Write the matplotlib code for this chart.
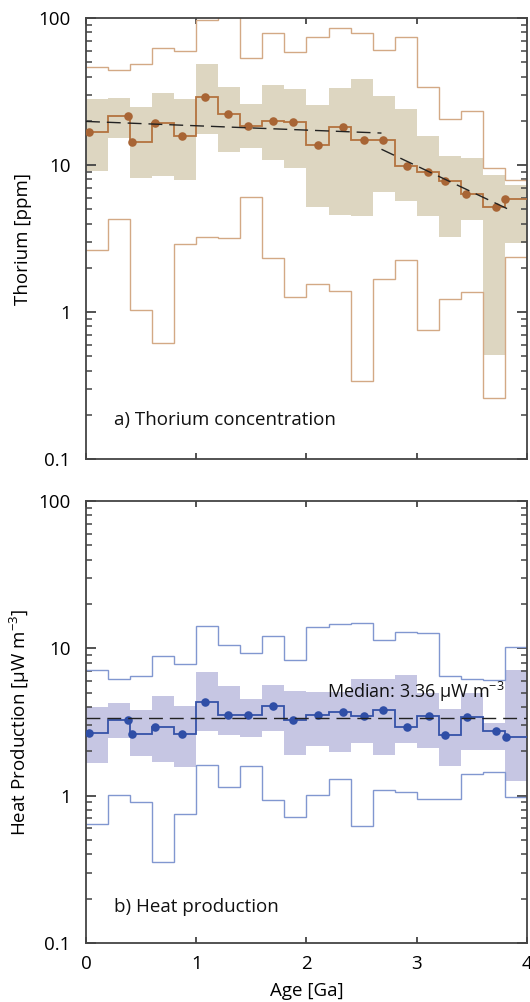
import numpy as np
import matplotlib
matplotlib.use('Agg')
import matplotlib.pyplot as plt
from matplotlib.ticker import LogLocator, NullFormatter, FixedLocator, FixedFormatter

plt.rcParams['font.family'] = ['Open Sans', 'DejaVu Sans']
plt.rcParams['mathtext.fontset'] = 'custom'
plt.rcParams['mathtext.rm'] = 'Open Sans'
plt.rcParams['mathtext.default'] = 'regular'

# bin edges (Ga)
age_edges = [0.0, 0.2, 0.4, 0.6, 0.8, 1.0, 1.2, 1.4, 1.6, 1.8, 2.0,
             2.2, 2.4, 2.6, 2.8, 3.0, 3.2, 3.4, 3.6, 3.8, 4.0]

# thorium [ppm]
th_age = [0.03, 0.38, 0.42, 0.63, 0.87, 1.08, 1.29, 1.47, 1.70, 1.88,
          2.10, 2.33, 2.52, 2.69, 2.91, 3.10, 3.26, 3.45, 3.72, 3.80]
th_median = [16.7, 21.4, 14.3, 19.2, 15.7, 29.0, 22.1, 18.4, 20.0, 19.5,
             13.6, 18.2, 14.7, 14.7, 9.8, 8.9, 7.8, 6.35, 5.18, 5.85]
th_q_hi = [28.0, 28.6, 24.7, 30.9, 28.1, 48.9, 34.0, 26.1, 35.2, 32.9,
           25.6, 33.6, 38.6, 29.4, 24.0, 15.7, 11.6, 11.1, 8.6, 7.3]
th_q_lo = [9.1, 15.3, 8.2, 8.4, 7.9, 16.2, 12.2, 13.1, 10.9, 9.6,
           5.15, 4.6, 4.5, 6.6, 5.7, 4.5, 3.25, 4.2, 0.51, 2.97]
th_p_hi = [46.7, 44.3, 48.4, 62.1, 59.8, 96.8, 130.0, 53.1, 78.7, 59.0,
           73.8, 85.0, 78.7, 61.0, 73.8, 33.8, 20.6, 23.4, 9.5, 7.9]
th_p_lo = [2.63, 4.28, 1.03, 0.62, 2.92, 3.25, 3.2, 6.03, 2.34, 1.27,
           1.56, 1.39, 0.34, 1.69, 2.27, 0.76, 1.22, 1.36, 0.26, 2.36]
fit1_age = [0.0, 2.68]
fit1_th = [19.8, 16.5]
fit2_age = [2.68, 3.82]
fit2_th = [12.8, 5.05]

# heat production [uW m-3]
hp_age = [0.03, 0.38, 0.42, 0.63, 0.87, 1.08, 1.29, 1.47, 1.70, 1.88,
          2.10, 2.33, 2.52, 2.69, 2.91, 3.11, 3.26, 3.46, 3.72, 3.81]
hp_median = [2.66, 3.28, 2.62, 2.91, 2.63, 4.3, 3.5, 3.5, 4.04, 3.28,
             3.5, 3.7, 3.45, 3.83, 2.91, 3.47, 2.59, 3.42, 2.76, 2.5]
hp_q_hi = [4.02, 4.26, 3.83, 4.75, 4.08, 6.9, 5.57, 4.5, 5.66, 5.1,
           5.05, 5.07, 6.19, 6.19, 6.59, 5.0, 3.9, 5.0, 3.1, 7.16]
hp_q_lo = [1.67, 2.46, 1.87, 1.69, 1.57, 2.76, 2.59, 2.5, 2.76, 1.88,
           2.16, 1.97, 2.28, 1.88, 2.29, 2.11, 1.6, 2.05, 2.03, 1.25]
hp_p_hi = [7.13, 6.22, 6.52, 8.87, 7.78, 14.2, 10.5, 9.23, 12.2, 8.34,
           14.0, 14.7, 14.8, 11.4, 12.9, 12.7, 6.45, 6.22, 6.06, 10.2]
hp_p_lo = [0.64, 1.01, 0.90, 0.355, 0.75, 1.61, 1.15, 1.59, 0.93, 0.72,
           1.01, 1.3, 0.62, 1.09, 1.06, 0.95, 0.95, 1.4, 1.45, 0.98]
hp_overall = 3.36

ytick_vals = [0.1, 1, 10, 100]
ytick_labels = ['0.1', '1', '10', '100']
xtick_vals = [0, 1, 2, 3, 4]

spine_col = '#444444'


def style_axes(ax, show_x):
    ax.set_yscale('log')
    ax.set_xlim(0, 4)
    ax.set_ylim(0.1, 100)
    ax.yaxis.set_major_locator(FixedLocator(ytick_vals))
    ax.yaxis.set_major_formatter(FixedFormatter(ytick_labels))
    ax.yaxis.set_minor_locator(LogLocator(base=10, subs=np.arange(2, 10)))
    ax.yaxis.set_minor_formatter(NullFormatter())
    ax.set_xticks(xtick_vals)
    if not show_x:
        ax.set_xticklabels([])
    for s in ax.spines.values():
        s.set_color(spine_col)
        s.set_linewidth(1.3)
    ax.tick_params(axis='y', which='major', direction='in', length=7.5,
                   width=1.3, color=spine_col, left=True, right=True,
                   labelsize=13.5, pad=11)
    ax.tick_params(axis='y', which='minor', direction='in', length=4,
                   width=1.1, color=spine_col, left=True, right=True)
    ax.tick_params(axis='x', which='major', direction='in', length=4,
                   width=1.3, color=spine_col, top=True, bottom=True,
                   labelsize=13.5, pad=9)


fig = plt.figure(figsize=(5.30, 10.02), dpi=100)
ax1 = fig.add_axes([0.1623, 0.5419, 0.8320, 0.4401])
ax2 = fig.add_axes([0.1623, 0.0589, 0.8320, 0.4411])

# a) thorium
ax1.stairs(th_q_hi, age_edges, baseline=th_q_lo, fill=True,
           color='#ddd6c1', lw=0, zorder=1)
ax1.stairs(th_p_hi, age_edges, baseline=None, color='#d3a985', lw=1.0, zorder=2)
ax1.stairs(th_p_lo, age_edges, baseline=None, color='#d3a985', lw=1.0, zorder=2)
ax1.stairs(th_median, age_edges, baseline=None, color='#b3733f', lw=1.3, zorder=3)
ax1.scatter(th_age, th_median, s=38, color='#a86535', zorder=4, lw=0)
ax1.plot(fit1_age, fit1_th, color='#222222', lw=1.0, ls=(0, (10, 5)), zorder=5)
ax1.plot(fit2_age, fit2_th, color='#222222', lw=1.0, ls=(0, (10, 5)), zorder=5)
ax1.text(0.063, 0.088, 'a) Thorium concentration', transform=ax1.transAxes,
         fontsize=13.5, va='center', ha='left', color='#111111')
ax1.set_ylabel('Thorium [ppm]', fontsize=13.5, labelpad=5)
style_axes(ax1, False)

# b) heat production
ax2.stairs(hp_q_hi, age_edges, baseline=hp_q_lo, fill=True,
           color='#c6c6e3', lw=0, zorder=1)
ax2.stairs(hp_p_hi, age_edges, baseline=None, color='#8197d0', lw=1.0, zorder=2)
ax2.stairs(hp_p_lo, age_edges, baseline=None, color='#8197d0', lw=1.0, zorder=2)
ax2.stairs(hp_median, age_edges, baseline=None, color='#3552a8', lw=1.3, zorder=3)
ax2.scatter(hp_age, hp_median, s=38, color='#2f4ea6', zorder=4, lw=0)
ax2.axhline(hp_overall, color='#222222', lw=1.0, ls=(0, (10, 5)), zorder=5)
ax2.text(2.19, 4.6, 'Median: %.2f µW m$^{-3}$' % hp_overall,
         fontsize=13, ha='left', va='baseline', color='#111111', zorder=6)
ax2.text(0.063, 0.081, 'b) Heat production', transform=ax2.transAxes,
         fontsize=13.5, va='center', ha='left', color='#111111')
ax2.set_ylabel('Heat Production [µW m$^{-3}$]', fontsize=13.5, labelpad=5)
ax2.set_xlabel('Age [Ga]', fontsize=13.5, labelpad=6)
style_axes(ax2, True)

fig.savefig('out.png', dpi=100)
